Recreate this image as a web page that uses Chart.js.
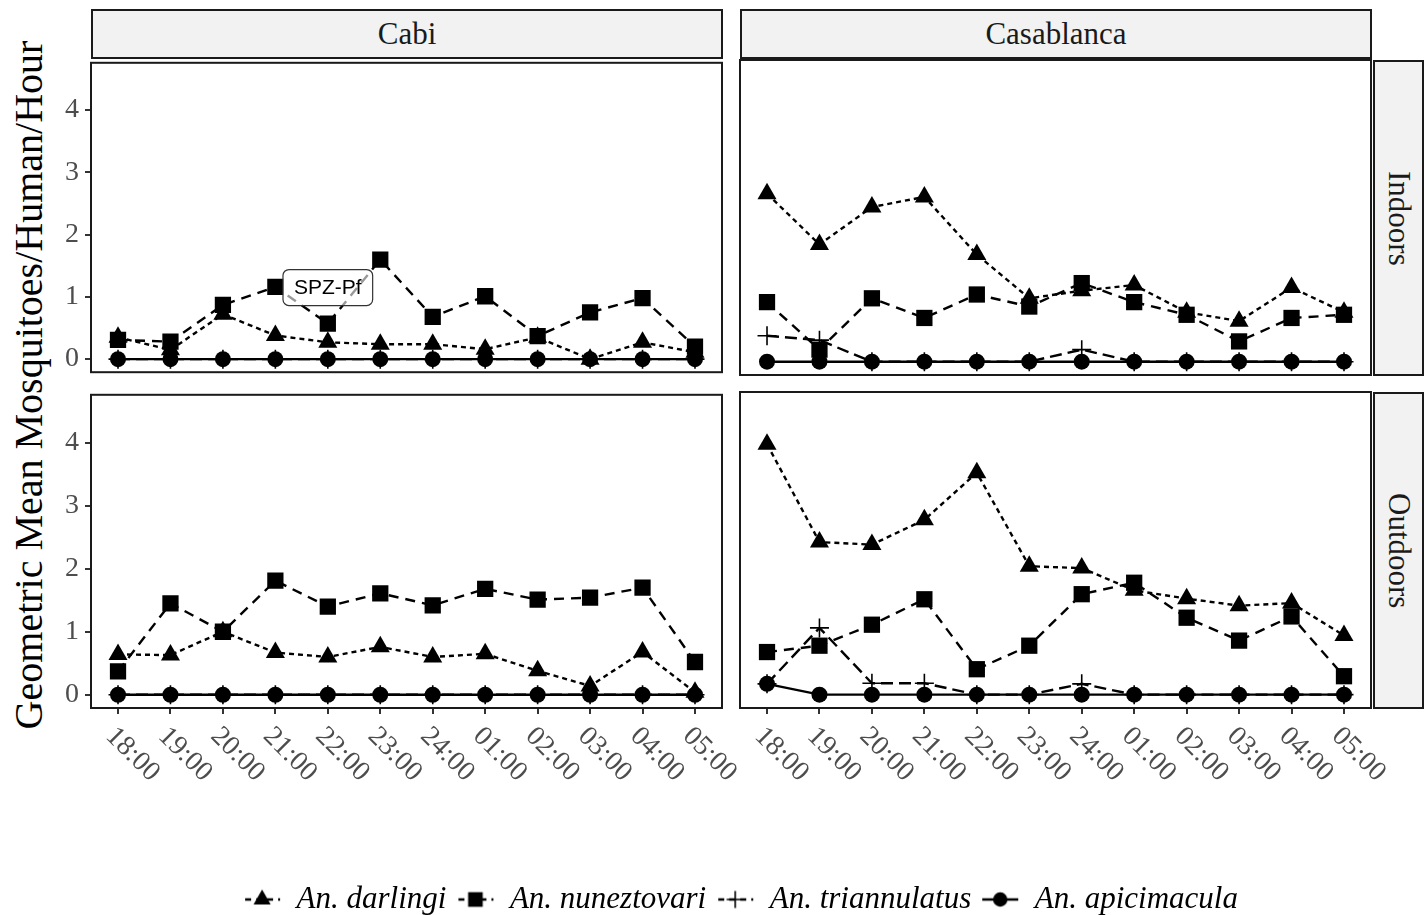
<!DOCTYPE html>
<html>
<head>
<meta charset="utf-8">
<script src="https://cdn.jsdelivr.net/npm/chart.js@4"></script>
<style>
  html, body { margin: 0; padding: 0; background: #fff; overflow: hidden; }
  #page { position: relative; width: 1427px; height: 915px; overflow: hidden; background: #fff; font-family: "Liberation Serif", serif; }
  canvas { position: absolute; }
  .strip { position: absolute; box-sizing: border-box; border: 2px solid #1a1a1a; background: #f2f2f2;
           display: flex; align-items: center; justify-content: center; font-size: 31px; color: #1a1a1a; }
  .vstrip { writing-mode: vertical-rl; }
  #ytitle { position: absolute; left: 28px; top: 385px; transform: translate(-50%, -50%) rotate(-90deg);
            white-space: nowrap; font-size: 40px; color: #000; }
</style>
</head>
<body>
<div id="page">
  <div class="strip" style="left:91px;top:9px;width:632px;height:50px;">Cabi</div>
  <div class="strip" style="left:740px;top:9px;width:632px;height:50px;">Casablanca</div>
  <div class="strip vstrip" style="left:1373px;top:60px;width:51px;height:316px;">Indoors</div>
  <div class="strip vstrip" style="left:1373px;top:392px;width:51px;height:317px;">Outdoors</div>
  <div id="ytitle">Geometric Mean Mosquitoes/Human/Hour</div>
  <canvas id="cabiIn"></canvas>
  <canvas id="casaIn"></canvas>
  <canvas id="cabiOut"></canvas>
  <canvas id="casaOut"></canvas>
  <canvas id="legend"></canvas>
</div>
<script>
// hours on the x axis
const hours = ["18:00", "19:00", "20:00", "21:00", "22:00", "23:00", "24:00", "01:00", "02:00", "03:00", "04:00", "05:00"];
const yTicks = [0, 1, 2, 3, 4];
const speciesNames = ["An. darlingi", "An. nuneztovari", "An. triannulatus", "An. apicimacula"];

// Cabi, indoors
const cabiInDarlingi    = [0.35, 0.15, 0.72, 0.38, 0.27, 0.24, 0.24, 0.16, 0.35, 0.00, 0.27, 0.11];
const cabiInNuneztovari = [0.31, 0.28, 0.87, 1.16, 0.57, 1.60, 0.68, 1.01, 0.37, 0.75, 0.98, 0.20];
const cabiInTriannul    = [0, 0, 0, 0, 0, 0, 0, 0, 0, 0, 0, 0];
const cabiInApicimacula = [0, 0, 0, 0, 0, 0, 0, 0, 0, 0, 0, 0];

// Casablanca, indoors
const casaInDarlingi    = [2.65, 1.85, 2.44, 2.60, 1.69, 1.00, 1.12, 1.21, 0.78, 0.64, 1.17, 0.78];
const casaInNuneztovari = [0.94, 0.19, 1.00, 0.69, 1.06, 0.87, 1.24, 0.94, 0.74, 0.32, 0.69, 0.74];
const casaInTriannul    = [0.41, 0.34, 0, 0, 0, 0, 0.19, 0, 0, 0, 0, 0];
const casaInApicimacula = [0, 0, 0, 0, 0, 0, 0, 0, 0, 0, 0, 0];

// Cabi, outdoors
const cabiOutDarlingi    = [0.64, 0.63, 1.00, 0.67, 0.60, 0.76, 0.60, 0.65, 0.38, 0.14, 0.68, 0.04];
const cabiOutNuneztovari = [0.37, 1.45, 1.00, 1.81, 1.40, 1.61, 1.42, 1.68, 1.51, 1.54, 1.70, 0.52];
const cabiOutTriannul    = [0, 0, 0, 0, 0, 0, 0, 0, 0, 0, 0, 0];
const cabiOutApicimacula = [0, 0, 0, 0, 0, 0, 0, 0, 0, 0, 0, 0];

// Casablanca, outdoors
const casaOutDarlingi    = [3.94, 2.40, 2.36, 2.75, 3.49, 2.02, 1.99, 1.64, 1.51, 1.40, 1.44, 0.93];
const casaOutNuneztovari = [0.67, 0.77, 1.10, 1.50, 0.40, 0.77, 1.58, 1.76, 1.21, 0.85, 1.23, 0.29];
const casaOutTriannul    = [0.17, 1.05, 0.18, 0.18, 0, 0, 0.17, 0, 0, 0, 0, 0];
const casaOutApicimacula = [0.17, 0, 0, 0, 0, 0, 0, 0, 0, 0, 0, 0];

// annotation in the Cabi indoors panel
const noteText = "SPZ-Pf";
const noteX = 4;
const noteY = 1.15;

const styles = [
  { point: "triangle", radius: 11, dash: [5, 4], order: 4, border: 0 },
  { point: "rect", radius: 11.5, dash: [10, 7], order: 3, border: 0 },
  { point: "cross", radius: 9.5, dash: [12, 6], order: 2, border: 1.6 },
  { point: "circle", radius: 8, dash: [], order: 1, border: 0 }
];

function makeDatasets(series) {
  return series.map((vals, k) => {
    const s = styles[k];
    return {
      label: speciesNames[k],
      data: vals.map((v, i) => ({ x: i, y: v })),
      borderColor: "#000",
      backgroundColor: "#000",
      borderWidth: 2.4,
      borderDash: s.dash,
      tension: 0,
      order: s.order,
      pointStyle: s.point,
      pointRadius: s.radius,
      pointBackgroundColor: "#000",
      pointBorderColor: "#000",
      pointBorderWidth: s.border
    };
  });
}

const framePlugin = {
  id: "frame",
  afterDraw(chart) {
    const a = chart.chartArea;
    const ctx = chart.ctx;
    ctx.save();
    ctx.strokeStyle = "#1a1a1a";
    ctx.lineWidth = 2;
    ctx.strokeRect(a.left, a.top, a.right - a.left, a.bottom - a.top);
    ctx.restore();
  }
};

const hourLabelPlugin = {
  id: "hourLabels",
  afterDraw(chart) {
    const { ctx, chartArea, scales } = chart;
    ctx.save();
    ctx.font = '28px "Liberation Serif"';
    ctx.fillStyle = "#4d4d4d";
    ctx.textAlign = "left";
    ctx.textBaseline = "middle";
    hours.forEach((h, i) => {
      const px = scales.x.getPixelForValue(i);
      ctx.save();
      ctx.translate(px - 8, chartArea.bottom + 24);
      ctx.rotate(Math.PI / 4);
      ctx.fillText(h, 0, 0);
      ctx.restore();
    });
    ctx.restore();
  }
};

const notePlugin = {
  id: "note",
  afterDatasetsDraw(chart) {
    const { ctx, scales } = chart;
    const cx = scales.x.getPixelForValue(noteX);
    const cy = scales.y.getPixelForValue(noteY);
    ctx.save();
    ctx.font = '21px "Liberation Sans"';
    const w = ctx.measureText(noteText).width + 22;
    const h = 36;
    ctx.beginPath();
    ctx.roundRect(cx - w / 2, cy - h / 2, w, h, 6);
    ctx.fillStyle = "rgba(255,255,255,0.6)";
    ctx.fill();
    ctx.strokeStyle = "#333";
    ctx.lineWidth = 1.2;
    ctx.stroke();
    ctx.fillStyle = "#000";
    ctx.textAlign = "center";
    ctx.textBaseline = "middle";
    ctx.fillText(noteText, cx, cy + 1);
    ctx.restore();
  }
};

const PAD = 20;
const Y_W = 50;
const X_H = 92;

function panel(id, area, series, showY, showX, extra) {
  const c = document.getElementById(id);
  const yW = showY ? Y_W : 0;
  const xH = showX ? X_H : 0;
  const padR = showX ? 55 : PAD;
  c.width = area.r - area.l + yW + PAD + padR;
  c.height = area.b - area.t + xH + PAD * 2;
  c.style.left = (area.l - yW - PAD) + "px";
  c.style.top = (area.t - PAD) + "px";

  const plugins = [framePlugin];
  if (showX) plugins.push(hourLabelPlugin);
  if (extra) plugins.push(extra);

  new Chart(c, {
    type: "line",
    data: { datasets: makeDatasets(series) },
    plugins: plugins,
    options: {
      responsive: false,
      animation: false,
      events: [],
      layout: { padding: { left: PAD, top: PAD, right: padR, bottom: PAD } },
      plugins: { legend: { display: false }, tooltip: { enabled: false } },
      scales: {
        x: {
          type: "linear",
          display: showX,
          min: -0.515,
          max: 11.515,
          afterBuildTicks: ax => { ax.ticks = hours.map((h, i) => ({ value: i })); },
          afterFit: ax => { ax.height = xH; },
          ticks: { display: false },
          border: { display: false },
          grid: { drawOnChartArea: false, drawTicks: true, tickLength: 6, color: "#333", lineWidth: 2 }
        },
        y: {
          display: showY,
          min: -0.21,
          max: 4.76,
          afterBuildTicks: ax => { ax.ticks = yTicks.map(v => ({ value: v })); },
          afterFit: ax => { ax.width = yW; },
          ticks: { color: "#4d4d4d", padding: 6, font: { family: "Liberation Serif", size: 28 } },
          border: { display: false },
          grid: { drawOnChartArea: false, drawTicks: true, tickLength: 6, color: "#333", lineWidth: 2 }
        }
      }
    }
  });
}

panel("cabiIn", { l: 91, t: 60, r: 722, b: 375 },
  [cabiInDarlingi, cabiInNuneztovari, cabiInTriannul, cabiInApicimacula], true, false, notePlugin);
panel("casaIn", { l: 740, t: 60, r: 1371, b: 375 },
  [casaInDarlingi, casaInNuneztovari, casaInTriannul, casaInApicimacula], false, false);
panel("cabiOut", { l: 91, t: 392, r: 722, b: 708 },
  [cabiOutDarlingi, cabiOutNuneztovari, cabiOutTriannul, cabiOutApicimacula], true, true);
panel("casaOut", { l: 740, t: 392, r: 1371, b: 708 },
  [casaOutDarlingi, casaOutNuneztovari, casaOutTriannul, casaOutApicimacula], false, true);

// legend keys: short line with the marker on top
function legendKey(k) {
  const s = styles[k];
  const key = document.createElement("canvas");
  key.width = 38;
  key.height = 28;
  const g = key.getContext("2d");
  g.strokeStyle = "#000";
  g.fillStyle = "#000";
  g.lineWidth = 2.4;
  g.setLineDash(s.dash.length ? [6, 5] : []);
  g.lineDashOffset = -1;
  g.beginPath();
  g.moveTo(1, 14);
  g.lineTo(37, 14);
  g.stroke();
  g.setLineDash([]);
  g.lineWidth = s.border || 0;
  Chart.helpers.drawPoint(g, { pointStyle: s.point, radius: s.radius * 0.9, rotation: 0, borderWidth: s.border }, 19, 14);
  return key;
}

// tall canvas so the legend is not capped to half of the chart height
const lg = document.getElementById("legend");
lg.width = 1427;
lg.height = 130;
lg.style.left = "0px";
lg.style.top = "795px";
new Chart(lg, {
  type: "line",
  data: { datasets: speciesNames.map(n => ({ label: n, data: [] })) },
  options: {
    responsive: false,
    animation: false,
    events: [],
    layout: { padding: { left: 54, right: 0, top: 0, bottom: 0 } },
    scales: { x: { display: false }, y: { display: false } },
    plugins: {
      tooltip: { enabled: false },
      legend: {
        position: "bottom",
        labels: {
          usePointStyle: true,
          pointStyleWidth: 38,
          padding: 10,
          color: "#000",
          font: { family: "Liberation Serif", size: 31, style: "italic" },
          generateLabels: () => speciesNames.map((n, k) => ({
            text: n, pointStyle: legendKey(k), fontColor: "#000", hidden: false, lineWidth: 0, datasetIndex: k
          }))
        }
      }
    }
  }
});
</script>
</body>
</html>
